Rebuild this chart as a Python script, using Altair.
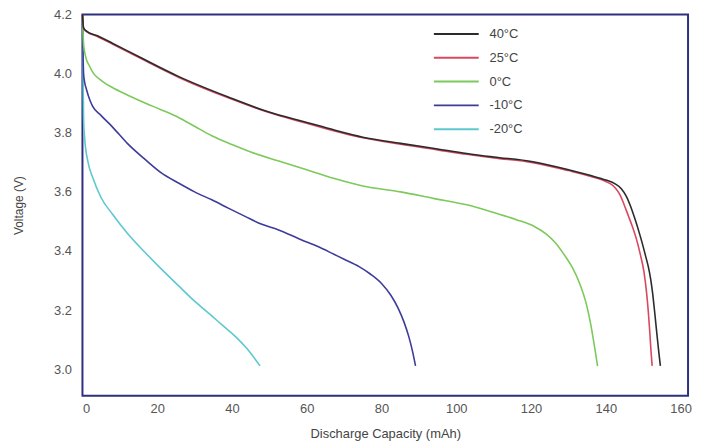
import altair as alt
import pandas as pd

series_names = ["40°C", "25°C", "0°C", "-10°C", "-20°C"]
series_colors = ["#2b2b2b", "#d9485f", "#7cc95c", "#3d3c9a", "#5ec8cf"]

cap_40 = [0, 0.3, 1, 4, 8, 15, 25.8, 39, 49.7, 60, 67.4, 75, 85.1, 95, 102.8, 110, 120.5, 130, 136, 140,
          142.5, 144.2, 145.5, 146.6, 147.7, 148.8, 149.8, 150.6, 151.4, 152, 152.5, 153.1, 153.7, 154.2, 154.6]
volt_40 = [4.20, 4.155, 4.145, 4.128, 4.103, 4.058, 3.99, 3.921, 3.871, 3.835, 3.809, 3.785, 3.764, 3.745, 3.73,
           3.718, 3.702, 3.675, 3.655, 3.64, 3.627, 3.61, 3.585, 3.552, 3.512, 3.468, 3.424, 3.385, 3.345, 3.305,
           3.26, 3.19, 3.115, 3.055, 3.011]

cap_25 = [0, 0.3, 1, 4, 8, 15, 25.8, 39, 49.7, 60, 67.4, 75, 85.1, 95, 102.8, 110, 120.5, 130, 136, 140,
          141.5, 142.6, 143.8, 144.8, 146, 147.1, 148.2, 149.2, 150.2, 150.9, 151.4, 151.8, 152.1, 152.4]
volt_25 = [4.20, 4.152, 4.143, 4.126, 4.10, 4.055, 3.987, 3.918, 3.869, 3.832, 3.806, 3.783, 3.761, 3.742,
           3.727, 3.715, 3.699, 3.672, 3.652, 3.635, 3.625, 3.612, 3.59, 3.56, 3.52, 3.483, 3.44, 3.39,
           3.33, 3.26, 3.19, 3.12, 3.06, 3.011]

cap_0 = [0, 0.3, 0.8, 1.9, 3, 4.5, 6, 8, 12, 16.9, 21, 25.8, 30, 34.6, 40, 45, 52.3, 60, 67.4, 75, 85.1, 93.9,
         102.8, 110, 116.1, 121, 124, 126.5, 129, 131, 133, 134.7, 136, 137, 137.8]
volt_0 = [4.19, 4.10, 4.06, 4.025, 4.0, 3.982, 3.968, 3.953, 3.928, 3.90, 3.878, 3.851, 3.822, 3.79, 3.76,
          3.735, 3.705, 3.675, 3.645, 3.62, 3.60, 3.578, 3.556, 3.53, 3.506, 3.482, 3.458, 3.428, 3.385,
          3.345, 3.29, 3.225, 3.15, 3.075, 3.01]

cap_m10 = [0, 0.3, 0.6, 1.0, 2.0, 2.7, 5, 8, 12, 16.9, 21, 25.8, 30, 34.6, 39, 43.5, 48, 52.3, 58.5, 63,
           67.4, 70, 74, 77, 80, 82.5, 84.5, 86, 87.3, 88.3, 89.1]
volt_m10 = [4.19, 4.0, 3.97, 3.95, 3.91, 3.89, 3.858, 3.82, 3.764, 3.708, 3.665, 3.629, 3.60, 3.573, 3.545,
            3.517, 3.49, 3.472, 3.438, 3.415, 3.388, 3.372, 3.347, 3.322, 3.29, 3.25, 3.205, 3.16, 3.11,
            3.06, 3.011]

cap_m20 = [0, 0.3, 0.6, 1.5, 2.7, 5, 8, 12, 16.9, 21, 25.8, 30, 34.6, 37.5, 40.8, 44, 47.5]
volt_m20 = [4.19, 3.85, 3.78, 3.70, 3.65, 3.58, 3.525, 3.46, 3.393, 3.34, 3.281, 3.23, 3.18, 3.148, 3.112,
            3.07, 3.011]

x_ticks = [0, 20, 40, 60, 80, 100, 120, 140, 160]
y_ticks = [3.0, 3.2, 3.4, 3.6, 3.8, 4.0, 4.2]

rows = []
draw_order = [("-20°C", cap_m20, volt_m20), ("-10°C", cap_m10, volt_m10), ("0°C", cap_0, volt_0),
              ("25°C", cap_25, volt_25), ("40°C", cap_40, volt_40)]
for name, xs, ys in draw_order:
    for i, (x, y) in enumerate(zip(xs, ys)):
        rows.append({"series": name, "cap": x, "volt": y, "idx": i})
df = pd.DataFrame(rows)

font = "Liberation Sans"

chart = alt.Chart(df).mark_line(strokeWidth=1.6, interpolate="monotone").encode(
    x=alt.X("cap:Q", scale=alt.Scale(domain=[0, 162], nice=False, zero=False),
            axis=alt.Axis(values=x_ticks, title="Discharge Capacity (mAh)", format="d")),
    y=alt.Y("volt:Q", scale=alt.Scale(domain=[2.91, 4.2], nice=False, zero=False),
            axis=alt.Axis(values=y_ticks, title="Voltage (V)", format=".1f")),
    color=alt.Color("series:N", scale=alt.Scale(domain=series_names, range=series_colors),
                    legend=alt.Legend(title=None, orient="none", legendX=353, legendY=8,
                                      symbolType="M-1,0H3.3", symbolSize=441, symbolStrokeWidth=2,
                                      labelOffset=34, rowPadding=5, padding=0,
                                      labelFontSize=13, labelColor="#444", labelFont=font)),
    order="idx:Q",
).properties(
    width=610, height=384,
    autosize=alt.AutoSizeParams(type="none"),
    padding={"left": 75, "top": 5, "right": 5, "bottom": 46},
).configure_view(
    stroke="#2f2f80", strokeWidth=2
).configure_axis(
    grid=False, ticks=False, domain=False,
    labelFont=font, labelFontSize=13, labelColor="#555",
    titleFont=font, titleFontSize=12, titleColor="#444", titleFontWeight="normal",
).configure_axisX(
    labelPadding=7, titlePadding=12, titleFontSize=13
).configure_axisY(
    labelPadding=11, titlePadding=28
)

chart.save("out.html", embed_options={"renderer": "svg", "actions": False})
